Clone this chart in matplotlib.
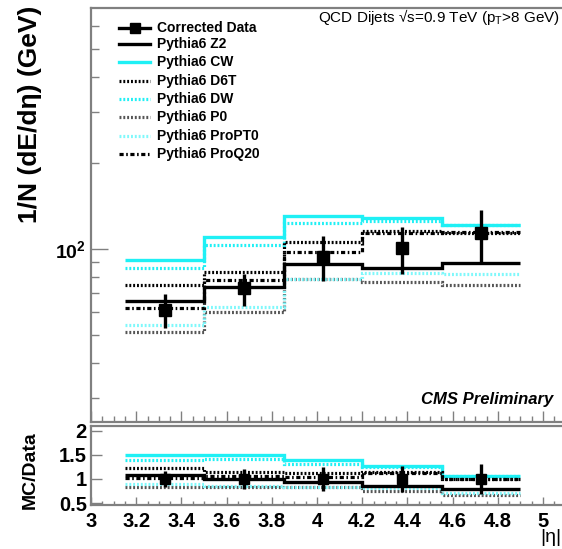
import matplotlib
matplotlib.use("Agg")
import matplotlib.pyplot as plt
import numpy as np
from matplotlib.lines import Line2D
from matplotlib.ticker import FixedLocator, LogLocator, MultipleLocator, NullFormatter

plt.rcParams['font.family'] = ['Liberation Sans', 'DejaVu Sans']
plt.rcParams['mathtext.fontset'] = 'custom'
plt.rcParams['mathtext.rm'] = 'Liberation Sans'
plt.rcParams['mathtext.bf'] = 'Liberation Sans:bold'
plt.rcParams['mathtext.it'] = 'Liberation Sans:italic'

# Binning in |eta| and measured energy flow
eta_edges = [3.152, 3.5, 3.852, 4.2, 4.552, 4.9]
data = [61.2, 73.1, 93.8, 100.8, 113.7]
data_up = [69.6, 81.8, 110.5, 119.0, 137.0]
data_lo = [52.9, 63.2, 77.3, 81.8, 89.0]
ratio_err = [0.17, 0.20, 0.25, 0.26, 0.32]

# Pythia6 tunes
z2 = [65.8, 73.7, 88.6, 85.8, 89.3]
cw = [91.5, 110.1, 130.4, 128.3, 121.3]
d6t = [74.8, 83.1, 105.8, 115.6, 113.7]
dw = [85.8, 103.3, 123.3, 125.3, 121.3]
p0 = [51.3, 60.2, 78.5, 76.6, 74.8]
propt0 = [54.2, 62.7, 78.5, 82.4, 81.8]
proq20 = [62.2, 77.9, 97.6, 113.7, 114.7]

x_ticks = [3.0, 3.2, 3.4, 3.6, 3.8, 4.0, 4.2, 4.4, 4.6, 4.8, 5.0]
x_ticklabels = ['3', '3.2', '3.4', '3.6', '3.8', '4', '4.2', '4.4', '4.6', '4.8', '5']
r_ticks = [0.5, 1.0, 1.5, 2.0]
r_ticklabels = ['0.5', '1', '1.5', '2']

CYAN = '#1ff0f5'
LCYAN = '#7ff8fb'
GREY = '#555555'
FRAME = '#808080'

DOT = (0, (0.6, 0.6))
DASHDOT = (0, (1.3, 0.8, 0.5, 0.8))

styles = [
    ('Pythia6 CW', cw, dict(color=CYAN, linestyle='-', lw=2.4)),
    ('Pythia6 DW', dw, dict(color=CYAN, linestyle=DOT, lw=2.3)),
    ('Pythia6 D6T', d6t, dict(color='black', linestyle=DOT, lw=2.3)),
    ('Pythia6 P0', p0, dict(color=GREY, linestyle=DOT, lw=2.3)),
    ('Pythia6 ProPT0', propt0, dict(color=LCYAN, linestyle=DOT, lw=2.3)),
    ('Pythia6 ProQ20', proq20, dict(color='black', linestyle=DASHDOT, lw=2.3)),
    ('Pythia6 Z2', z2, dict(color='black', linestyle='-', lw=2.4)),
]
legend_order = ['Pythia6 Z2', 'Pythia6 CW', 'Pythia6 D6T', 'Pythia6 DW',
                'Pythia6 P0', 'Pythia6 ProPT0', 'Pythia6 ProQ20']

W, H = 562, 549
fig = plt.figure(figsize=(W / 100, H / 100), dpi=100)


def fx(px):
    return px / W


def fy(py):
    return 1 - py / H


x_left, x_right_val = 91, 565.6
ax = fig.add_axes([fx(x_left), fy(422), fx(x_right_val) - fx(x_left), fy(8) - fy(422)])
axr = fig.add_axes([fx(x_left), fy(505), fx(x_right_val) - fx(x_left), fy(426) - fy(505)])

edges = np.array(eta_edges)
centers = 0.5 * (edges[:-1] + edges[1:])
data_a = np.array(data)

for name, vals, st in styles:
    ax.stairs(vals, edges, baseline=None, fill=False, **st)
    axr.stairs(np.array(vals) / data_a, edges, baseline=None, fill=False, **st)

ax.errorbar(centers, data, yerr=[data_a - np.array(data_lo), np.array(data_up) - data_a],
            fmt='s', color='black', ms=8, elinewidth=2.4, capsize=0, zorder=5)
axr.errorbar(centers, np.ones(len(data)), yerr=ratio_err,
             fmt='s', color='black', ms=7, elinewidth=2.4, capsize=0, zorder=5)

# main panel axes
ax.set_yscale('log')
ax.set_xlim(3.0, 5.1)
ax.set_ylim(24.8, 696)
ax.yaxis.set_major_locator(FixedLocator([100]))
ax.set_yticklabels([r'$\mathbf{10^{2}}$'], fontsize=14)
ax.yaxis.set_minor_locator(LogLocator(base=10, subs=np.arange(2, 10)))
ax.yaxis.set_minor_formatter(NullFormatter())
ax.xaxis.set_major_locator(MultipleLocator(0.2))
ax.xaxis.set_minor_locator(MultipleLocator(0.05))
ax.tick_params(axis='x', which='both', labelbottom=False, direction='in', color=FRAME)
ax.tick_params(axis='x', which='major', length=8, width=1)
ax.tick_params(axis='x', which='minor', length=4, width=1)
ax.tick_params(axis='y', which='major', direction='in', length=12, width=1, color=FRAME, pad=4)
ax.tick_params(axis='y', which='minor', direction='in', length=6, width=1, color=FRAME)

# ratio panel axes
axr.set_xlim(3.0, 5.1)
axr.set_ylim(0.46, 2.1)
axr.set_xticks(x_ticks)
axr.set_xticklabels(x_ticklabels, fontsize=14.5, fontweight='bold')
axr.xaxis.set_minor_locator(MultipleLocator(0.05))
axr.set_yticks(r_ticks)
axr.set_yticklabels(r_ticklabels, fontsize=14.5, fontweight='bold')
axr.tick_params(axis='x', which='major', direction='in', length=6, width=1, color=FRAME, pad=5)
axr.tick_params(axis='x', which='minor', direction='in', length=3, width=1, color=FRAME)
axr.tick_params(axis='y', which='major', direction='in', length=8, width=1, color=FRAME, pad=3)

for a in (ax, axr):
    for sp in a.spines.values():
        sp.set_color(FRAME)
        sp.set_linewidth(1.6)

# axis titles
fig.text(fx(30), fy(6), '1/N (dE/d\u03b7) (GeV)', rotation=90, ha='center', va='top',
         fontsize=19, fontweight='bold')
fig.text(fx(30), fy(470), 'MC/Data', rotation=90, ha='center', va='center',
         fontsize=14, fontweight='bold')
fig.text(fx(561), fy(537), '|\u03b7|', ha='right', va='center', fontsize=14)

# header and label
fig.text(fx(318), fy(17), 'QCD Dijets \u221as=0.9 TeV (p$_{\\mathrm{T}}$>8 GeV)',
         ha='left', va='center', fontsize=11)
fig.text(fx(553), fy(404), 'CMS Preliminary', ha='right', va='baseline',
         fontsize=12, fontweight='bold', fontstyle='italic')

# legend
style_map = {n: st for n, v, st in styles}
rows_y = [28, 44, 62, 81, 99, 117, 136, 154]
lx0, lx1, tx = 119, 150, 157
y = rows_y[0]
fig.add_artist(Line2D([fx(lx0), fx(lx1)], [fy(y), fy(y)], color='black', lw=2.4,
                      transform=fig.transFigure))
fig.add_artist(Line2D([fx((lx0 + lx1) / 2)], [fy(y)], marker='s', ms=7, color='black',
                      transform=fig.transFigure))
fig.text(fx(tx), fy(y), 'Corrected Data', ha='left', va='center', fontsize=10, fontweight='bold')
for name, y in zip(legend_order, rows_y[1:]):
    st = style_map[name]
    fig.add_artist(Line2D([fx(lx0), fx(lx1)], [fy(y), fy(y)], transform=fig.transFigure,
                          color=st['color'], linestyle=st['linestyle'], lw=st['lw']))
    fig.text(fx(tx), fy(y), name, ha='left', va='center', fontsize=10, fontweight='bold')

fig.savefig('out.png', dpi=100)
